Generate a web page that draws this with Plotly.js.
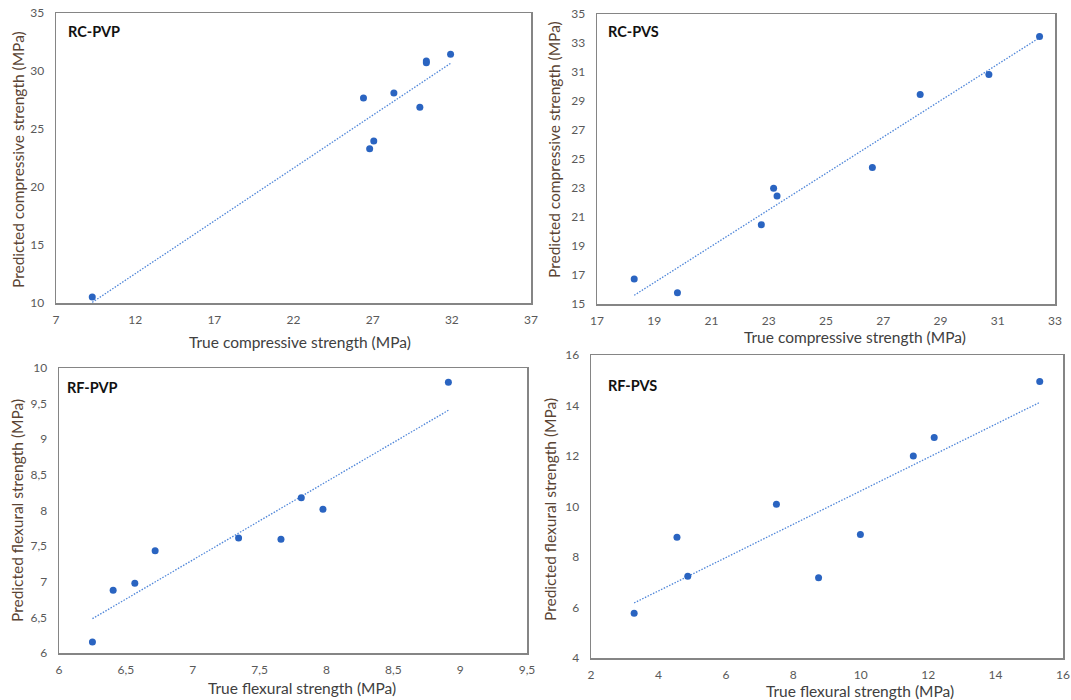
<!DOCTYPE html>
<html>
<head>
<meta charset="utf-8">
<script src="https://cdn.plot.ly/plotly-3.0.1.min.js"></script>
<style>html,body{margin:0;padding:0;background:#fff;}#chart{width:1071px;height:700px;}</style>
</head>
<body>
<div id="chart"></div>
<script>
// RC-PVP (compressive, PVP)
const rcPvpTrue = [9.29, 26.42, 26.81, 27.07, 28.34, 29.98, 30.39, 30.39, 31.92];
const rcPvpPred = [10.52, 27.67, 23.30, 23.97, 28.10, 26.87, 30.86, 30.72, 31.44];
// RC-PVS (compressive, PVS)
const rcPvsTrue = [18.30, 19.81, 22.74, 23.17, 23.29, 26.62, 28.29, 30.69, 32.46];
const rcPvsPred = [16.73, 15.78, 20.47, 22.98, 22.45, 24.41, 29.44, 30.82, 33.45];
// RF-PVP (flexural, PVP)
const rfPvpTrue = [6.25, 6.405, 6.567, 6.719, 7.343, 7.66, 7.812, 7.974, 8.912];
const rfPvpPred = [6.154, 6.88, 6.978, 7.436, 7.614, 7.595, 8.18, 8.016, 9.80];
// RF-PVS (flexural, PVS)
const rfPvsTrue = [3.28, 4.55, 4.87, 7.50, 8.75, 9.99, 11.56, 12.18, 15.31];
const rfPvsPred = [5.77, 8.78, 7.24, 10.09, 7.18, 8.89, 12.00, 12.73, 14.95];

const panelLabels = ["RC-PVP", "RC-PVS", "RF-PVP", "RF-PVS"];
const xTitles = ["True compressive strength (MPa)", "True compressive strength (MPa)",
                 "True flexural strength (MPa)", "True flexural strength (MPa)"];
const yTitles = ["Predicted compressive strength (MPa)", "Predicted compressive strength (MPa)",
                 "Predicted flexural strength (MPa)", "Predicted flexural strength (MPa)"];

const W = 1071, H = 700;
const px = v => v / W;
const py = v => 1 - v / H;

function fit(xs, ys) {
  const n = xs.length;
  const mx = xs.reduce((a, b) => a + b, 0) / n;
  const my = ys.reduce((a, b) => a + b, 0) / n;
  let sxy = 0, sxx = 0;
  for (let i = 0; i < n; i++) { sxy += (xs[i] - mx) * (ys[i] - my); sxx += (xs[i] - mx) ** 2; }
  const b = sxy / sxx, a = my - b * mx;
  const x0 = Math.min(...xs), x1 = Math.max(...xs);
  return { x: [x0, x1], y: [a + b * x0, a + b * x1] };
}

const sets = [[rcPvpTrue, rcPvpPred], [rcPvsTrue, rcPvsPred], [rfPvpTrue, rfPvpPred], [rfPvsTrue, rfPvsPred]];
const markerColor = '#2a64c1';
const lineColor = '#4f86d9';
const traces = [];
sets.forEach((s, i) => {
  const sfx = i === 0 ? '' : String(i + 1);
  const t = fit(s[0], s[1]);
  traces.push({ x: t.x, y: t.y, type: 'scatter', mode: 'lines', xaxis: 'x' + sfx, yaxis: 'y' + sfx,
    line: { color: lineColor, width: 1.3, dash: '1.5px,1.5px' }, hoverinfo: 'skip', showlegend: false });
  traces.push({ x: s[0], y: s[1], type: 'scatter', mode: 'markers', xaxis: 'x' + sfx, yaxis: 'y' + sfx,
    marker: { color: markerColor, size: 7 }, showlegend: false });
});

// frames in pixels [left, right, top, bottom]
const frames = [[56, 531, 13, 303], [597, 1055, 14, 304], [59, 527, 368, 653], [591, 1063, 355, 658]];
const ranges = [[[7, 37], [10, 35], 5, 5], [[17, 33], [15, 35], 2, 2], [[6, 9.5], [6, 10], 0.5, 0.5], [[2, 16], [4, 16], 2, 2]];

const tickFont = { family: 'Lato, "Open Sans", sans-serif', size: 12, color: '#595959' };
const layout = {
  width: W, height: H, margin: { l: 0, r: 0, t: 0, b: 0 },
  paper_bgcolor: '#ffffff', plot_bgcolor: '#ffffff',
  separators: ',.', showlegend: false, annotations: []
};
frames.forEach((f, i) => {
  const sfx = i === 0 ? '' : String(i + 1);
  const r = ranges[i];
  layout['xaxis' + sfx] = { domain: [px(f[0]), px(f[1])], range: r[0], dtick: r[2], tick0: r[0][0],
    anchor: 'y' + sfx, showgrid: false, zeroline: false, showline: true, mirror: true,
    linecolor: '#858585', linewidth: 1.5, ticks: '', ticklabelstandoff: 5, tickfont: tickFont };
  layout['yaxis' + sfx] = { domain: [py(f[3]), py(f[2])], range: r[1], dtick: r[3], tick0: r[1][0],
    anchor: 'x' + sfx, showgrid: false, zeroline: false, showline: true, mirror: true,
    linecolor: '#858585', linewidth: 1.5, ticks: '', ticklabelstandoff: 8, tickfont: tickFont };
});

const labelPos = [[66, 32], [606, 32], [65, 387], [606, 386]];
const xTitlePos = [[300, 342], [855, 337], [302, 688], [860, 691]];
const yTitlePos = [[18, 160], [554, 150], [17, 511], [550, 510]];
const titleFont = { family: 'Lato, "Open Sans", sans-serif', size: 15.5, color: '#404040' };
for (let i = 0; i < 4; i++) {
  layout.annotations.push({ text: '<b>' + panelLabels[i] + '</b>', xref: 'paper', yref: 'paper',
    x: px(labelPos[i][0]), y: py(labelPos[i][1]), xanchor: 'left', yanchor: 'middle', showarrow: false,
    font: { family: 'Lato, "Open Sans", sans-serif', size: 14.5, color: '#111111' } });
  layout.annotations.push({ text: xTitles[i], xref: 'paper', yref: 'paper',
    x: px(xTitlePos[i][0]), y: py(xTitlePos[i][1]), xanchor: 'center', yanchor: 'middle', showarrow: false,
    font: titleFont });
  layout.annotations.push({ text: yTitles[i], xref: 'paper', yref: 'paper', textangle: -90,
    x: px(yTitlePos[i][0]), y: py(yTitlePos[i][1]), xanchor: 'center', yanchor: 'middle', showarrow: false,
    font: { family: titleFont.family, size: 15.5, color: '#5a4434' } });
}

Plotly.newPlot('chart', traces, layout, { displayModeBar: false, staticPlot: true });
</script>
</body>
</html>
